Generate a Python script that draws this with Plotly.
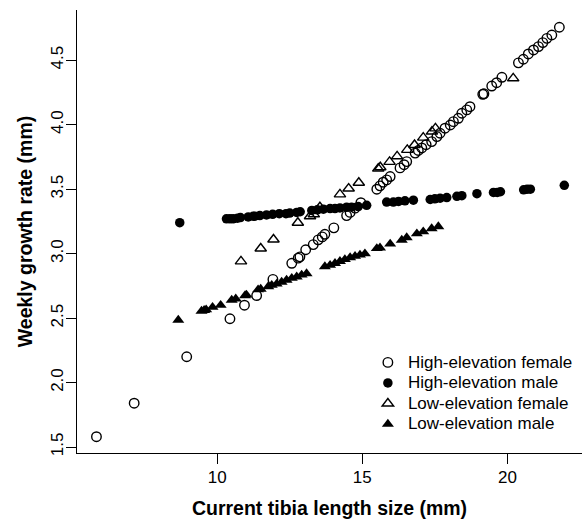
import plotly.graph_objects as go

# High-elevation female (open circles)
hf_x = [5.84, 7.14, 8.95, 10.44, 10.94, 11.36, 11.92, 12.57, 12.79, 12.85, 13.05, 13.31, 13.48, 13.62,
        13.71, 14.02, 14.46, 14.58, 14.75, 14.95, 15.50, 15.61, 15.72, 15.84, 15.96, 16.30, 16.44,
        16.53, 16.82, 16.93, 17.05, 17.20, 17.39, 17.57, 17.68, 17.85, 18.03, 18.14, 18.31, 18.43,
        18.60, 18.71, 19.15, 19.19, 19.46, 19.63, 19.81, 20.38, 20.55, 20.72, 20.90, 21.07, 21.22,
        21.36, 21.53, 21.79]
hf_y = [1.58, 1.84, 2.20, 2.495, 2.60, 2.675, 2.80, 2.925, 2.965, 2.975, 3.03, 3.07, 3.107, 3.13,
        3.15, 3.20, 3.295, 3.32, 3.353, 3.395, 3.50, 3.526, 3.554, 3.572, 3.598, 3.665, 3.69,
        3.714, 3.78, 3.80, 3.82, 3.845, 3.869, 3.908, 3.934, 3.973, 3.998, 4.024, 4.05, 4.089,
        4.115, 4.14, 4.236, 4.24, 4.30, 4.326, 4.368, 4.48, 4.508, 4.549, 4.58, 4.606, 4.637,
        4.67, 4.696, 4.756]

# High-elevation male (filled circles)
hm_x = [8.71, 10.32, 10.44, 10.55, 10.70, 10.80, 11.07, 11.24, 11.30, 11.47, 11.70, 11.91, 12.14,
        12.37, 12.50, 12.74, 12.86, 13.26, 13.45, 13.66, 13.89, 14.06, 14.23, 14.46, 14.63, 14.86,
        15.15, 15.84, 16.07, 16.25, 16.47, 16.76, 17.34, 17.50, 17.68, 17.91, 18.26, 18.43, 18.95,
        19.52, 19.65, 19.76, 20.56, 20.68, 20.79, 21.96]
hm_y = [3.24, 3.27, 3.27, 3.27, 3.275, 3.28, 3.285, 3.29, 3.29, 3.295, 3.30, 3.305, 3.31,
        3.31, 3.315, 3.32, 3.325, 3.335, 3.34, 3.345, 3.35, 3.35, 3.355, 3.36, 3.36, 3.365,
        3.375, 3.40, 3.40, 3.405, 3.41, 3.415, 3.42, 3.425, 3.43, 3.435, 3.445, 3.45, 3.465,
        3.475, 3.475, 3.48, 3.495, 3.50, 3.50, 3.53]

# Low-elevation female (open triangles)
lf_x = [10.82, 11.50, 11.94, 12.78, 13.20, 13.33, 13.54, 14.23, 14.53, 14.88, 15.55, 15.62, 15.94,
        16.20, 16.55, 16.80, 17.10, 17.40, 17.52, 20.20]
lf_y = [2.94, 3.04, 3.11, 3.24, 3.29, 3.305, 3.36, 3.46, 3.505, 3.55, 3.66, 3.67, 3.712,
        3.755, 3.805, 3.843, 3.90, 3.947, 3.972, 4.36]

# Low-elevation male (filled triangles)
lm_x = [8.66, 9.46, 9.55, 9.62, 9.84, 10.12, 10.50, 10.64, 10.96, 11.01, 11.41, 11.50, 11.76, 11.88,
        12.05, 12.22, 12.39, 12.57, 12.74, 12.91, 13.08, 13.71, 13.89, 14.06, 14.23, 14.40, 14.58,
        14.75, 14.92, 15.09, 15.50, 15.61, 15.96, 16.36, 16.53, 16.88, 17.10, 17.39, 17.62]
lm_y = [2.485, 2.555, 2.56, 2.565, 2.585, 2.60, 2.64, 2.65, 2.675, 2.68, 2.72, 2.725, 2.745, 2.755,
        2.765, 2.78, 2.795, 2.81, 2.82, 2.835, 2.845, 2.90, 2.91, 2.925, 2.94, 2.955, 2.97,
        2.98, 2.99, 3.00, 3.04, 3.045, 3.075, 3.105, 3.125, 3.155, 3.17, 3.195, 3.21]

series_names = ["High-elevation female", "High-elevation male",
                "Low-elevation female", "Low-elevation male"]

x_ticks = [10, 15, 20]
y_ticks = [1.5, 2.0, 2.5, 3.0, 3.5, 4.0, 4.5]
y_tick_labels = ["1.5", "2.0", "2.5", "3.0", "3.5", "4.0", "4.5"]

FONT = "Liberation Sans, Arial, Helvetica, sans-serif"


def legend_label(s):
    # larger visible text while keeping compact legend row spacing
    return '<span style="font-size:17px">' + s + '</span>'


fig = go.Figure()
fig.add_trace(go.Scatter(x=hf_x, y=hf_y, mode="markers", name=legend_label(series_names[0]),
                         marker=dict(symbol="circle-open", size=9.5, color="black",
                                     line=dict(width=1.4, color="black"))))
fig.add_trace(go.Scatter(x=hm_x, y=hm_y, mode="markers", name=legend_label(series_names[1]),
                         marker=dict(symbol="circle", size=9.5, color="black")))
fig.add_trace(go.Scatter(x=lf_x, y=lf_y, mode="markers", name=legend_label(series_names[2]),
                         marker=dict(symbol="triangle-up-open", size=10, color="black",
                                     line=dict(width=1.4, color="black"))))
fig.add_trace(go.Scatter(x=lm_x, y=lm_y, mode="markers", name=legend_label(series_names[3]),
                         marker=dict(symbol="triangle-up", size=10.5, color="black")))

axis_common = dict(ticks="outside", ticklen=10, tickwidth=1.3, tickcolor="black",
                   showline=True, linewidth=1.3, linecolor="black", mirror=False,
                   showgrid=False, zeroline=False, automargin=False,
                   tickfont=dict(size=17, family=FONT, color="black"))

fig.update_layout(
    template="none",
    width=585, height=520,
    margin=dict(l=77, r=3, t=10, b=67),
    paper_bgcolor="white", plot_bgcolor="white",
    font=dict(family=FONT, color="black", size=17),
    showlegend=True,
    legend=dict(x=0.576, y=0.239, xanchor="left", yanchor="top",
                bgcolor="rgba(0,0,0,0)", borderwidth=0,
                font=dict(size=13.5, family=FONT, color="black"),
                tracegroupgap=0, itemsizing="trace"),
    xaxis=dict(range=[5.17, 22.57], tickvals=x_ticks, ticklabelstandoff=-2,
               title=dict(text="<b>Current tibia length size (mm)</b>",
                          font=dict(size=19.5, family=FONT, color="black"), standoff=15),
               **axis_common),
    yaxis=dict(range=[1.4535, 4.89], tickvals=y_ticks, ticktext=y_tick_labels,
               tickangle=-90, ticklabelstandoff=-4,
               title=dict(text="<b>Weekly growth rate (mm)</b>",
                          font=dict(size=19.5, family=FONT, color="black"), standoff=10),
               **axis_common),
)

fig.write_html("out.html",
               config={"displayModeBar": False},
               post_script="document.body.style.margin='0';document.body.style.overflow='hidden';")
